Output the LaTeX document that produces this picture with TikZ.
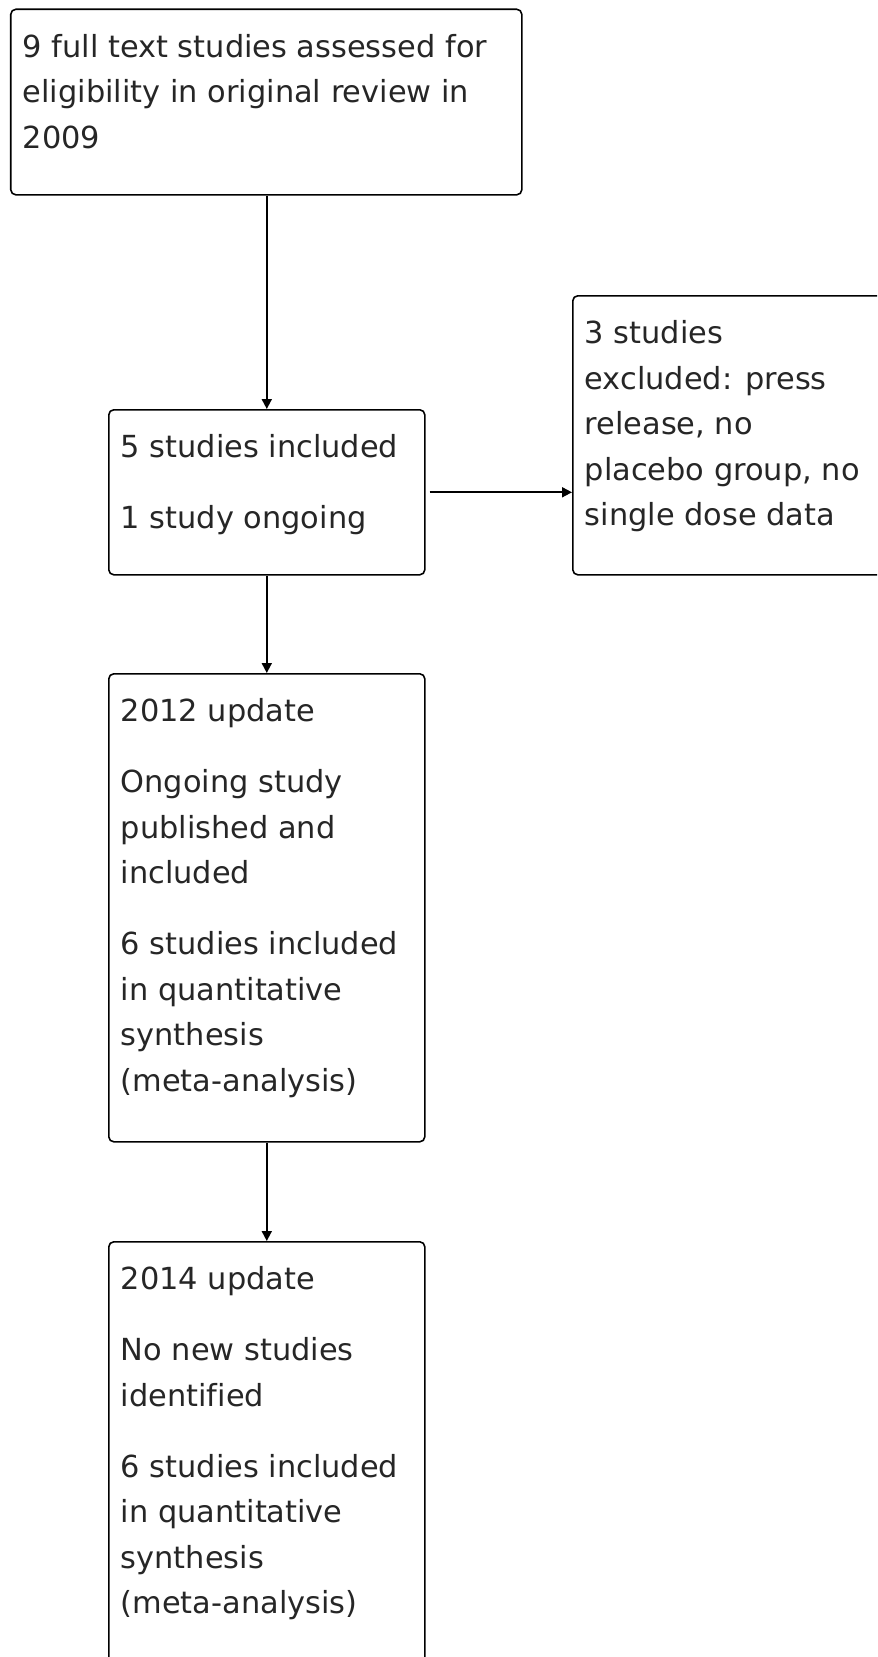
\documentclass[tikz,border=0pt]{standalone}
\usepackage{fontspec}
\setmainfont{DejaVu Sans}[Ligatures=CommonOff]
\usetikzlibrary{arrows.meta}

% box text: width, height, lines
\newcommand{\boxtext}[3]{\parbox[t][#2][t]{#1}{\setlength{\parskip}{14.5pt}\strut#3}}

\begin{document}
\begin{tikzpicture}
  [flowbox/.style={draw,rounded corners=1mm,line width=.9pt,anchor=north west,
     inner xsep=.24cm,inner ysep=.32cm,font=\fontsize{17.3}{25.9}\selectfont,text=black!85},
   flowarrow/.style={line width=1pt,-{Triangle[length=.2cm,width=.2cm]}}]
  \useasboundingbox (0,0) rectangle (17.54,-33.14);
  \clip (0,0) rectangle (17.54,-33.14);

  \node[flowbox] (orig) at (0.2,-0.17) {\boxtext{9.74cm}{3.07cm}{9 full text studies assessed for\\eligibility in original review in\\2009}};
  \node[flowbox] (incl) at (2.16,-8.18) {\boxtext{5.84cm}{2.66cm}{5 studies included\par 1 study ongoing}};
  \node[flowbox] (excl) at (11.44,-5.9) {\boxtext{6.12cm}{4.94cm}{3 studies\\excluded: press\\release, no\\placebo group, no\\single dose data}};
  \node[flowbox] (upd12) at (2.16,-13.46) {\boxtext{5.84cm}{8.72cm}{2012 update\par Ongoing study\\published and\\included\par 6 studies included\\in quantitative\\synthesis\\(meta-analysis)}};
  \node[flowbox] (upd14) at (2.16,-24.82) {\boxtext{5.84cm}{8.36cm}{2014 update\par No new studies\\identified\par 6 studies included\\in quantitative\\synthesis\\(meta-analysis)}};

  \draw[flowarrow] (incl.north |- orig.south) -- (incl.north);
  \draw[flowarrow,shorten <=.08cm] (incl.east) -- (incl.east -| excl.west);
  \draw[flowarrow] (incl.south) -- (upd12.north);
  \draw[flowarrow] (upd12.south) -- (upd14.north);
\end{tikzpicture}
\end{document}
